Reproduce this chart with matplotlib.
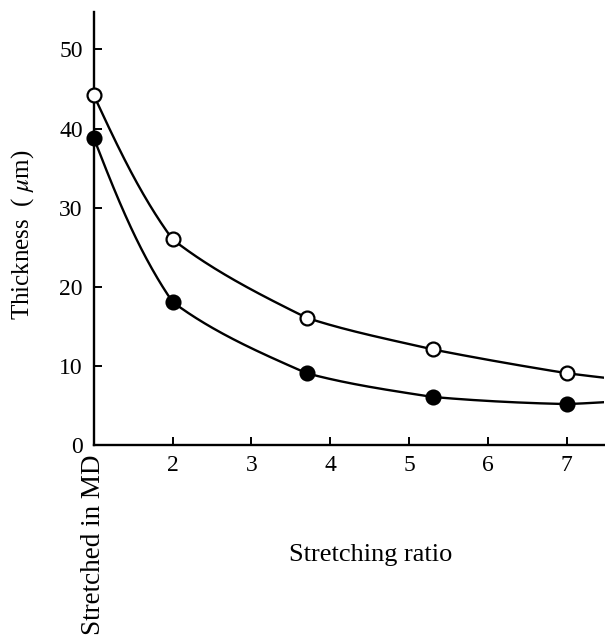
import numpy as np
import matplotlib
matplotlib.use("Agg")
import matplotlib.pyplot as plt

plt.rcParams["font.family"] = ["Liberation Serif", "DejaVu Serif"]
plt.rcParams["mathtext.fontset"] = "stix"

# Stretching ratio (1 = film stretched in MD only)
ratio = [1.0, 2.0, 3.7, 5.3, 7.0]
thickness_open = [44.2, 26.0, 16.1, 12.1, 9.1]
thickness_filled = [38.8, 18.1, 9.1, 6.1, 5.2]

x_ticks = [1, 2, 3, 4, 5, 6, 7]
x_ticklabels = ["Stretched in MD", "2", "3", "4", "5", "6", "7"]
y_ticks = [0, 10, 20, 30, 40, 50]


def _unit(v):
    return v / np.linalg.norm(v)


def drawn_curve(P, w=0.75, samples=80):
    """Hand-drawn style smooth curve through the rows of P (display coords).

    Each segment is a cubic Hermite piece whose end tangents lean towards
    that segment's own chord, so the bends gather at the data points.
    A point continued quadratically past the end lets the curve run on.
    """
    P = np.asarray(P, float)
    P = np.vstack([P, 3 * P[-1] - 3 * P[-2] + P[-3]])
    seg = np.diff(P, axis=0)
    L = np.linalg.norm(seg, axis=1)
    c = seg / L[:, None]
    n = len(P)
    t_in = np.zeros_like(P)
    t_out = np.zeros_like(P)
    for j in range(1, n - 1):
        t_in[j] = _unit(w * c[j - 1] + (1 - w) * c[j])
        t_out[j] = _unit((1 - w) * c[j - 1] + w * c[j])
    t_out[0] = _unit(c[0] + 0.5 * (c[0] - t_in[1]))
    t_in[-1] = c[-1]
    u = np.linspace(0, 1, samples)[:, None]
    h00 = 2 * u ** 3 - 3 * u ** 2 + 1
    h10 = u ** 3 - 2 * u ** 2 + u
    h01 = -2 * u ** 3 + 3 * u ** 2
    h11 = u ** 3 - u ** 2
    out = []
    for j in range(n - 1):
        out.append(h00 * P[j] + h10 * L[j] * t_out[j]
                   + h01 * P[j + 1] + h11 * L[j] * t_in[j + 1])
    return np.vstack(out)


fig = plt.figure(figsize=(6.05, 6.37), dpi=100)
ax = fig.add_axes([0.155, 0.301, 0.843, 0.680])
ax.set_xlim(1.0, 7.47)
ax.set_ylim(0, 54.7)

for yv, face in [(thickness_open, "white"), (thickness_filled, "black")]:
    disp = ax.transData.transform(np.column_stack([ratio, yv]))
    curve = ax.transData.inverted().transform(drawn_curve(disp))
    ax.plot(curve[:, 0], curve[:, 1], color="black", lw=1.7, zorder=2)
    ax.plot(ratio, yv, ls="none", marker="o", ms=10, mfc=face, mec="black",
            mew=1.6, zorder=3, clip_on=False)

for side in ("top", "right"):
    ax.spines[side].set_visible(False)
for side in ("left", "bottom"):
    ax.spines[side].set_linewidth(1.7)

ax.set_xticks(x_ticks)
ax.set_xticklabels(x_ticklabels)
ax.set_yticks(y_ticks)
ax.tick_params(direction="in", length=6, width=1.4, labelsize=17)
ax.tick_params(axis="x", pad=7)
ax.tick_params(axis="y", pad=8)
first = ax.get_xticklabels()[0]
first.set_rotation(90)
first.set_va("top")
first.set_fontsize(19.5)

ax.set_ylabel("Thickness  ( $\\mu$m)", fontsize=18)
ax.yaxis.set_label_coords(-0.1135, 0.485)
fig.text(371 / 605, 1 - 555 / 637, "Stretching ratio", fontsize=19,
         ha="center", va="center")

fig.savefig("out.png", dpi=100)
